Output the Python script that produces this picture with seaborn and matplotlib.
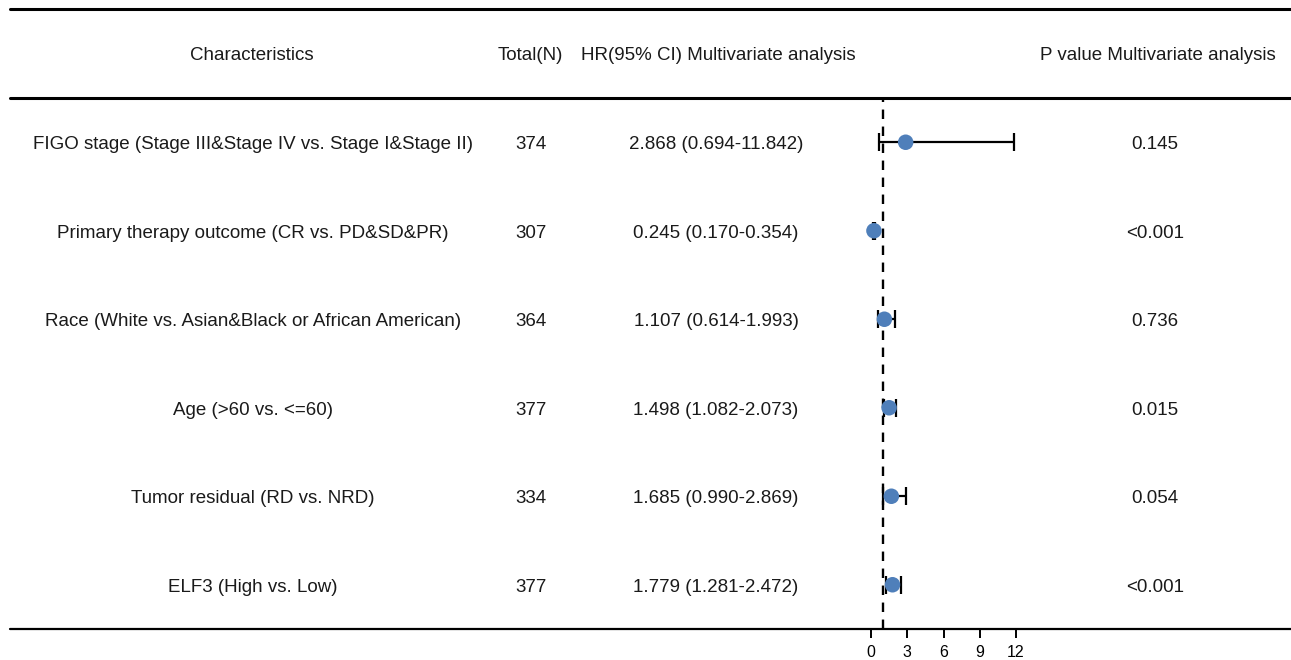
import matplotlib
matplotlib.use("Agg")
import matplotlib.pyplot as plt
import matplotlib.transforms as mtransforms
from matplotlib.lines import Line2D
import seaborn as sns
import pandas as pd

sns.set_theme(style="white")
plt.rcParams["font.family"] = ["Liberation Sans", "DejaVu Sans"]

characteristics = [
    "FIGO stage (Stage III&Stage IV vs. Stage I&Stage II)",
    "Primary therapy outcome (CR vs. PD&SD&PR)",
    "Race (White vs. Asian&Black or African American)",
    "Age (>60 vs. <=60)",
    "Tumor residual (RD vs. NRD)",
    "ELF3 (High vs. Low)",
]
total_n = [374, 307, 364, 377, 334, 377]
hr = [2.868, 0.245, 1.107, 1.498, 1.685, 1.779]
ci_low = [0.694, 0.170, 0.614, 1.082, 0.990, 1.281]
ci_high = [11.842, 0.354, 1.993, 2.073, 2.869, 2.472]
p_values = ["0.145", "<0.001", "0.736", "0.015", "0.054", "<0.001"]
x_ticks = [0, 3, 6, 9, 12]

headers = ["Characteristics", "Total(N)", "HR(95% CI) Multivariate analysis",
           "P value Multivariate analysis"]

df = pd.DataFrame({
    "label": characteristics, "n": total_n, "hr": hr,
    "lo": ci_low, "hi": ci_high, "p": p_values,
})
df["row"] = range(len(df))

W, H = 1291, 660
fig = plt.figure(figsize=(W / 100, H / 100), dpi=100)

# forest panel: spans the body of the table vertically
px_left, px_right = 840, 1040
y_top, y_bot = 98, 629
ax = fig.add_axes([px_left / W, 1 - y_bot / H, (px_right - px_left) / W, (y_bot - y_top) / H])

# map 0 -> 871 px, 12 -> 1016 px
unit = (1016 - 871) / 12
ax.set_xlim(-(871 - px_left) / unit, (px_right - 871) / unit)
ax.set_ylim(len(df) - 0.5, -0.5)

ax.axvline(1, color="black", lw=1.7, ls=(0, (4, 3.2)), zorder=1)
ax.errorbar(df["hr"], df["row"],
            xerr=[df["hr"] - df["lo"], df["hi"] - df["hr"]],
            fmt="none", ecolor="black", elinewidth=1.6, capsize=6.5, capthick=1.6, zorder=2)
sns.scatterplot(data=df, x="hr", y="row", ax=ax, color="#4f7fba", s=125,
                edgecolor="none", zorder=3, legend=False)

for s in ["top", "right", "left", "bottom"]:
    ax.spines[s].set_visible(False)
ax.set_yticks([])
ax.set_xticks(x_ticks)
ax.set_xticklabels([str(t) for t in x_ticks], fontsize=11.5, color="black")
ax.tick_params(axis="x", bottom=True, length=6.5, width=1.4, color="black", pad=5)
ax.set_xlabel("")
ax.set_ylabel("")

# table text, nudged slightly down to sit on the row centre
nudge = mtransforms.ScaledTranslation(0, -2.5 / 100, fig.dpi_scale_trans)
blend = mtransforms.blended_transform_factory(fig.transFigure, ax.transData) + nudge
col_x = [253, 531, 716, 1155]
fs = 13.5
txt_color = "#1a1a1a"
for i, r in df.iterrows():
    y = r["row"]
    fig_text = [r["label"], str(r["n"]), f"{r['hr']:.3f} ({r['lo']:.3f}-{r['hi']:.3f})", r["p"]]
    for cx, t in zip(col_x, fig_text):
        ax.text(cx / W, y, t, transform=blend, ha="center", va="center",
                fontsize=fs, color=txt_color)

header_x = [252, 530, 718, 1158]
for cx, t in zip(header_x, headers):
    fig.text(cx / W, 1 - 55 / H, t, ha="center", va="center", fontsize=fs, color=txt_color)

# horizontal rules
for ypx, lw in [(9, 2.2), (98, 2.2), (629, 1.6)]:
    fig.add_artist(Line2D([10 / W, 1.0], [1 - ypx / H, 1 - ypx / H],
                          transform=fig.transFigure, color="black", lw=lw))

fig.savefig("out.png", dpi=100)
